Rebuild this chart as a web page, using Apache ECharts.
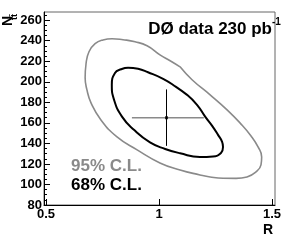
<!DOCTYPE html>
<html><head><meta charset="utf-8">
<script src="https://cdn.jsdelivr.net/npm/echarts@6/dist/echarts.min.js"></script>
<style>html,body{margin:0;padding:0;background:#fff}#c{width:291px;height:242px}</style>
</head><body><div id="c"></div>
<script>
// 95% C.L. contour (R, N_ttbar)
const cl95R = [1.093, 1.146, 1.226, 1.301, 1.358, 1.407, 1.438, 1.454, 1.451, 1.429, 1.389, 1.341, 1.283, 1.226, 1.181, 1.093, 1.004, 0.903, 0.814, 0.743, 0.699, 0.681, 0.673, 0.677, 0.690, 0.717, 0.752, 0.792, 0.841, 0.894, 0.947, 1.004, 1.049, 1.093];
const cl95N = [214.6, 202.0, 187.3, 172.7, 160.0, 147.3, 136.6, 126.8, 119.0, 112.2, 107.3, 105.9, 106.0, 107.3, 109.3, 114.1, 121.0, 133.7, 146.3, 162.9, 179.5, 192.2, 203.9, 217.6, 229.3, 237.1, 240.8, 242.0, 241.0, 239.0, 235.1, 226.3, 220.5, 214.6];
// 68% C.L. contour
const cl68R = [1.124, 1.168, 1.204, 1.235, 1.261, 1.279, 1.283, 1.274, 1.239, 1.181, 1.093, 1.027, 0.960, 0.889, 0.836, 0.801, 0.791, 0.805, 0.832, 0.863, 0.907, 0.951, 1.018, 1.075, 1.124];
const cl68N = [187.3, 177.6, 166.1, 157.1, 148.3, 141.5, 136.6, 130.7, 127.3, 126.8, 130.4, 134.6, 141.0, 153.2, 166.1, 182.4, 197.1, 208.5, 212.2, 213.7, 212.7, 209.3, 202.9, 195.1, 187.3];
// best fit with errors
const bestR = 1.033, bestN = 165;
const errRLow = 0.88, errRHigh = 1.198;
const errNLow = 137.6, errNHigh = 192.6;
// ticks
const xTickValues = [0.5, 1, 1.5];
const xTickLabels = ['0.5', '1', '1.5'];
const yTickValues = [80, 100, 120, 140, 160, 180, 200, 220, 240, 260];
const yMinorValues = [85, 90, 95, 105, 110, 115, 125, 130, 135, 145, 150, 155, 165, 170, 175, 185, 190, 195, 205, 210, 215, 225, 230, 235, 245, 250, 255, 265];

const pts = (a, b) => a.map((v, i) => [v, b[i]]);
const GRAY = '#8a8a8a';
const FONT = 'Liberation Sans, Arial, sans-serif';

const chart = echarts.init(document.getElementById('c'), null, {renderer: 'canvas'});
const xMin = 0.491, xMax = 1.513, yMin = 80, yMax = 268;
chart.setOption({
  animation: false,
  backgroundColor: '#fff',
  grid: {left: 44, right: 16, top: 12, bottom: 37, show: true, borderColor: '#666', borderWidth: 1, backgroundColor: 'transparent'},
  xAxis: {
    type: 'value', min: xMin, max: xMax,
    axisLine: {lineStyle: {color: '#000', width: 1}},
    axisTick: {inside: true, length: 6, lineStyle: {color: '#000'}, customValues: xTickValues},
    axisLabel: {customValues: xTickValues, formatter: v => xTickLabels[xTickValues.indexOf(+v.toFixed(2))] ?? '', color: '#000', fontWeight: 'bold', fontSize: 13, fontFamily: FONT, margin: 3},
    splitLine: {show: false}
  },
  yAxis: [{
    type: 'value', min: yMin, max: yMax,
    axisLine: {lineStyle: {color: '#000', width: 1}},
    axisTick: {inside: true, length: 6, lineStyle: {color: '#000'}, customValues: yTickValues},
    axisLabel: {customValues: yTickValues, color: '#000', fontWeight: 'bold', fontSize: 13, fontFamily: FONT, margin: 2},
    splitLine: {show: false}
  }, {
    type: 'value', min: yMin, max: yMax, position: 'left',
    axisLine: {show: false},
    axisTick: {inside: true, length: 3, lineStyle: {color: '#000'}, customValues: yMinorValues},
    axisLabel: {show: false},
    splitLine: {show: false}
  }],
  series: [
    {type: 'line', data: pts(cl95R, cl95N), smooth: 0.5, symbol: 'none', lineStyle: {color: GRAY, width: 1.6}, z: 2},
    {type: 'line', data: pts(cl68R, cl68N), smooth: 0.5, symbol: 'none', lineStyle: {color: '#000', width: 2}, z: 3},
    {type: 'line', data: [[errRLow, bestN], [errRHigh, bestN]], symbol: 'none', lineStyle: {color: GRAY, width: 1.3}, z: 4},
    {type: 'line', data: [[bestR, errNLow], [bestR, errNHigh]], symbol: 'none', lineStyle: {color: '#000', width: 1}, z: 5},
    {type: 'scatter', data: [[bestR, bestN]], symbol: 'rect', symbolSize: 3, itemStyle: {color: '#000'}, z: 6}
  ],
  graphic: [
    {type: 'text', x: 272, y: 29, style: {text: 'DØ data 230 pb', font: 'bold 17px ' + FONT, fill: '#000', textAlign: 'right', textVerticalAlign: 'middle'}},
    {type: 'text', x: 272, y: 22, style: {text: '-1', font: 'bold 10px ' + FONT, fill: '#000', textAlign: 'left', textVerticalAlign: 'middle'}},
    {type: 'text', x: 71, y: 166.5, style: {text: '95% C.L.', font: 'bold 17px ' + FONT, fill: GRAY, textAlign: 'left', textVerticalAlign: 'middle'}},
    {type: 'text', x: 71, y: 185, style: {text: '68% C.L.', font: 'bold 17px ' + FONT, fill: '#000', textAlign: 'left', textVerticalAlign: 'middle'}},
    {type: 'text', x: 268, y: 230, style: {text: 'R', font: 'bold 14px ' + FONT, fill: '#000', textAlign: 'center', textVerticalAlign: 'middle'}},
    {type: 'text', x: 8, y: 26, rotation: Math.PI / 2, style: {text: 'N', font: 'bold 14px ' + FONT, fill: '#000', textAlign: 'left', textVerticalAlign: 'middle'}},
    {type: 'text', x: 14.5, y: 20, rotation: Math.PI / 2, style: {text: 'tt\u0304', font: 'bold 9px ' + FONT, fill: '#000', textAlign: 'left', textVerticalAlign: 'middle'}}
  ]
});
</script></body></html>
